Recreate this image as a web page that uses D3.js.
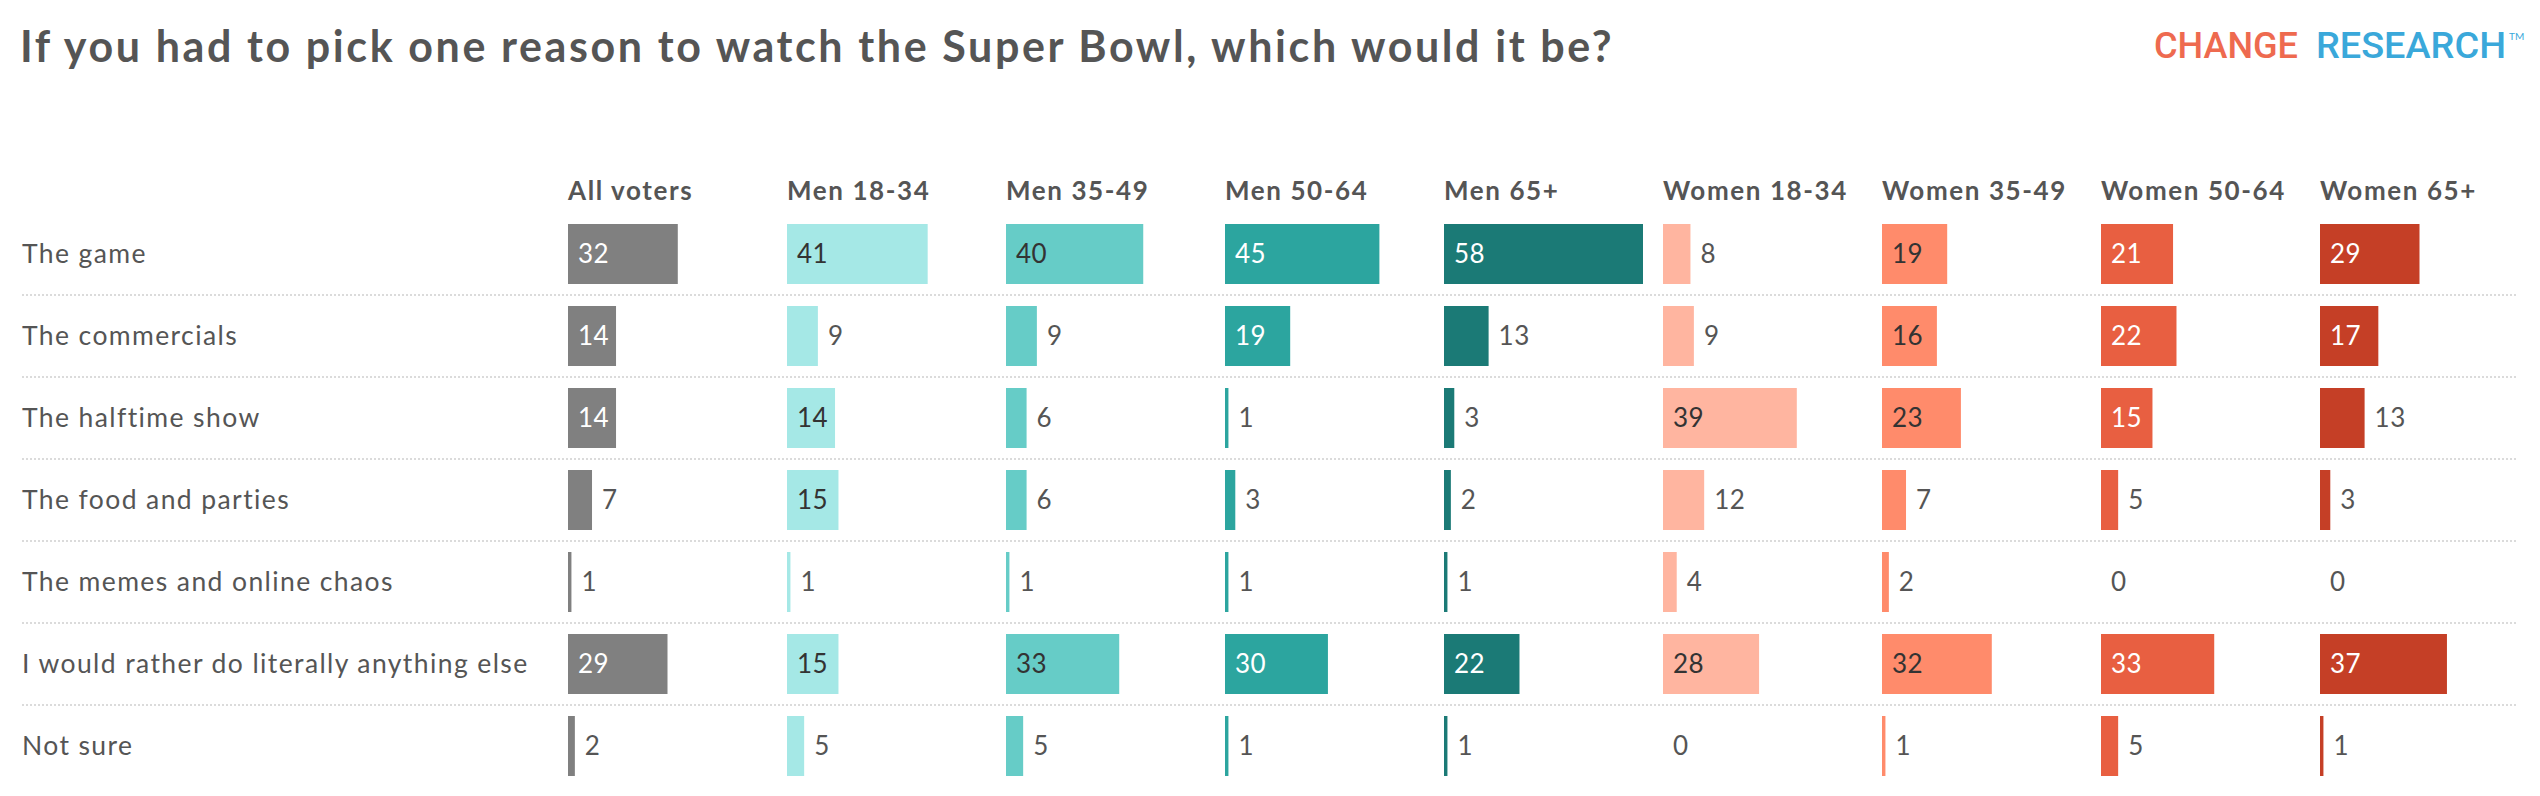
<!DOCTYPE html>
<html lang="en">
<head>
    <meta charset="UTF-8">
    <script src="https://cdn.jsdelivr.net/npm/d3@7"></script>
    <title>Super Bowl reasons</title>
    <style>
        body { margin: 0; background: #fff; }
        text { font-family: Lato, "Open Sans", sans-serif; }
    </style>
</head>
<body>
<div id="chart"></div>
<script>
    // reasons (rows)
    const categories = [
        "The game",
        "The commercials",
        "The halftime show",
        "The food and parties",
        "The memes and online chaos",
        "I would rather do literally anything else",
        "Not sure"
    ];

    // voter groups (columns)
    const groups = ["All voters", "Men 18-34", "Men 35-49", "Men 50-64", "Men 65+",
        "Women 18-34", "Women 35-49", "Women 50-64", "Women 65+"];

    // values per group, same order as categories
    const allVoters = [32, 14, 14, 7, 1, 29, 2];
    const men1834 = [41, 9, 14, 15, 1, 15, 5];
    const men3549 = [40, 9, 6, 6, 1, 33, 5];
    const men5064 = [45, 19, 1, 3, 1, 30, 1];
    const men65 = [58, 13, 3, 2, 1, 22, 1];
    const women1834 = [8, 9, 39, 12, 4, 28, 0];
    const women3549 = [19, 16, 23, 7, 2, 32, 1];
    const women5064 = [21, 22, 15, 5, 0, 33, 5];
    const women65 = [29, 17, 13, 3, 0, 37, 1];

    const series = [allVoters, men1834, men3549, men5064, men65,
        women1834, women3549, women5064, women65];

    const barColors = ["#808080", "#a5e8e6", "#66ccc7", "#2ca59f", "#1b7a76",
        "#ffb5a0", "#ff8b6b", "#e85f41", "#c53f26"];
    const lightBars = ["Men 18-34", "Men 35-49", "Women 18-34", "Women 35-49"];

    const width = 2540;
    const height = 796;
    const textColor = "#555";

    const svg = d3.select("#chart").append("svg")
        .attr("width", width)
        .attr("height", height);

    // title
    svg.append("text")
        .attr("x", 20)
        .attr("y", 62)
        .attr("font-size", 43)
        .attr("font-weight", 700)
        .attr("letter-spacing", 2.6)
        .attr("fill", textColor)
        .text("If you had to pick one reason to watch the Super Bowl, which would it be?");

    // logo
    const logo = svg.append("text")
        .attr("y", 58)
        .attr("font-size", 37)
        .attr("font-weight", 500)
        .style("font-family", "Roboto, sans-serif");
    logo.append("tspan")
        .attr("x", 2154)
        .attr("fill", "#ee6a4f")
        .attr("textLength", 144)
        .attr("lengthAdjust", "spacingAndGlyphs")
        .text("CHANGE");
    logo.append("tspan")
        .attr("x", 2316)
        .attr("fill", "#3aa8da")
        .attr("textLength", 190)
        .attr("lengthAdjust", "spacingAndGlyphs")
        .text("RESEARCH");
    svg.append("text")
        .attr("x", 2509)
        .attr("y", 40)
        .attr("font-size", 10)
        .attr("fill", "#3aa8da")
        .text("TM");

    // scales
    const colScale = d3.scalePoint().domain(groups).range([568, 2320]);
    const rowScale = d3.scalePoint().domain(categories).range([254, 746]);
    const barScale = d3.scaleLinear().domain([0, d3.max(series.flat())]).range([0, 199]);
    const barHeight = 60;
    const rowStep = rowScale.step();

    // separators
    svg.selectAll("line.sep")
        .data(categories.slice(0, -1))
        .enter()
        .append("line")
        .attr("class", "sep")
        .attr("x1", 22)
        .attr("x2", 2518)
        .attr("y1", d => rowScale(d) + rowStep / 2)
        .attr("y2", d => rowScale(d) + rowStep / 2)
        .attr("stroke", "#d0d0d0")
        .attr("stroke-width", 1.5)
        .attr("stroke-dasharray", "2,2");

    // row labels
    svg.selectAll("text.cat")
        .data(categories)
        .enter()
        .append("text")
        .attr("class", "cat")
        .attr("x", 22)
        .attr("y", d => rowScale(d) + 9)
        .attr("font-size", 26.5)
        .attr("letter-spacing", 1.4)
        .attr("fill", textColor)
        .text(d => d);

    // column headers
    svg.selectAll("text.group")
        .data(groups)
        .enter()
        .append("text")
        .attr("class", "group")
        .attr("x", d => colScale(d))
        .attr("y", 200)
        .attr("font-size", 26)
        .attr("font-weight", 700)
        .attr("letter-spacing", 1.6)
        .attr("fill", textColor)
        .text(d => d);

    // bars + value labels
    groups.forEach((g, gi) => {
        const rows = categories.map((c, ci) => ({ cat: c, value: series[gi][ci] }));
        const col = svg.append("g").attr("transform", `translate(${colScale(g)},0)`);
        const inside = v => v >= 14;

        col.selectAll("rect")
            .data(rows)
            .enter()
            .append("rect")
            .attr("x", 0)
            .attr("y", d => rowScale(d.cat) - barHeight / 2)
            .attr("width", d => barScale(d.value))
            .attr("height", barHeight)
            .attr("fill", barColors[gi]);

        col.selectAll("text")
            .data(rows)
            .enter()
            .append("text")
            .attr("x", d => inside(d.value) ? 10 : barScale(d.value) + 10)
            .attr("y", d => rowScale(d.cat) + 9)
            .attr("font-size", 26)
            .attr("letter-spacing", 0.5)
            .attr("fill", d => inside(d.value)
                ? (lightBars.includes(g) ? "#333" : "#fff")
                : textColor)
            .text(d => d.value);
    });
</script>
</body>
</html>
